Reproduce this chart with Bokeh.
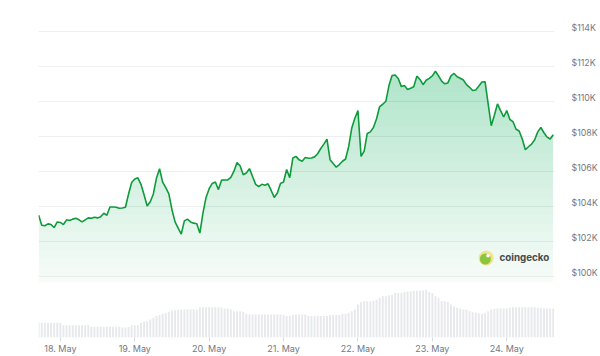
import numpy as np
from datetime import datetime, timedelta
from bokeh.plotting import figure
from bokeh.models import (Range1d, FixedTicker, PrintfTickFormatter, DatetimeTickFormatter,
                          Label, LinearAxis)
from bokeh.embed import file_html
from bokeh.resources import INLINE

# ---- data ----
start_time = datetime(2025, 5, 17, 17, 0)   # first hourly point

# BTC price, thousands of USD, hourly
price_k = [
    103.48, 102.91, 102.88, 102.99, 102.95, 102.78, 103.10, 103.07, 102.95, 103.22,
    103.18, 103.26, 103.31, 103.22, 103.10, 103.22, 103.33, 103.31, 103.37, 103.33,
    103.39, 103.60, 103.48, 103.95, 103.95, 103.94, 103.88, 103.90, 103.94, 104.70,
    105.35, 105.55, 105.62, 105.25, 104.65, 104.01, 104.25, 104.70, 105.60, 106.14,
    105.38, 105.06, 104.70, 103.80, 103.10, 102.75, 102.40, 103.16, 103.26, 103.10,
    103.03, 103.00, 102.46, 103.60, 104.50, 105.00, 105.30, 105.38, 104.95, 105.49,
    105.50, 105.50, 105.65, 106.00, 106.50, 106.30, 105.80, 105.90, 106.15, 105.70,
    105.25, 105.12, 105.25, 105.20, 105.28, 104.90, 104.50, 104.75, 105.30, 105.38,
    106.10, 105.63, 106.76, 106.85, 106.65, 106.57, 106.78, 106.74, 106.76, 106.82,
    107.00, 107.30, 107.55, 107.84, 106.66, 106.44, 106.23, 106.38, 106.57, 106.70,
    107.40, 108.47, 109.03, 109.47, 106.85, 107.15, 108.16, 108.25, 108.50, 109.00,
    109.70, 109.83, 110.00, 110.90, 111.47, 111.50, 111.30, 110.84, 110.90, 110.68,
    110.75, 110.83, 111.44, 111.25, 110.95, 111.20, 111.31, 111.45, 111.72, 111.45,
    111.15, 111.00, 111.05, 111.45, 111.59, 111.40, 111.32, 111.22, 110.95, 110.80,
    110.62, 110.65, 110.87, 111.10, 111.12, 109.85, 108.60, 109.20, 109.85, 109.47,
    109.10, 109.47, 108.96, 108.84, 108.40, 108.30, 107.84, 107.23, 107.40, 107.55,
    107.80, 108.25, 108.50, 108.20, 107.95, 107.84, 108.09,
]

# trading volume, relative units, hourly
volume_rel = [
    45, 45, 45, 45, 45, 45, 45, 45,
    37, 37, 37, 37, 37, 37, 37, 37, 37,
    33, 33, 33, 33, 33, 33, 33, 33, 33, 33,
    30, 30, 32, 37, 37, 37, 45, 48, 50, 55, 60, 65,
    68, 72, 75, 78, 82, 83, 84, 85, 85, 85, 86,
    86, 85, 92, 92, 92, 92, 92, 92, 92, 91,
    88, 88, 85, 80, 80, 80, 78,
    72, 70, 70, 70, 70, 70, 70, 70, 70, 70, 70, 70, 68,
    65, 65, 68, 70, 70, 70, 70,
    65, 65, 65, 65, 65, 65, 65,
    68, 68, 68, 68, 72, 72, 75, 80, 85, 100, 108,
    110, 110, 110, 112, 115, 120, 125, 125, 128,
    130, 135, 135, 135, 138, 140, 140, 142, 142,
    142, 143, 145, 138, 135, 125, 120, 112, 110, 108,
    100, 95, 90, 88, 85, 85, 80, 77, 75, 73, 72, 75,
    80, 85, 87, 88, 88, 88, 88,
    90, 92, 92, 92, 92, 92, 92, 92, 92, 90, 90, 88, 88, 88, 88,
]

day_labels = ["2025-05-18", "2025-05-19", "2025-05-20", "2025-05-21",
              "2025-05-22", "2025-05-23", "2025-05-24"]
price_ticks = [100, 102, 104, 106, 108, 110, 112, 114]

# ---- helpers ----
EPOCH = datetime(1970, 1, 1)
def to_ms(dt):
    return (dt - EPOCH).total_seconds() * 1000.0

t_price = [to_ms(start_time + timedelta(hours=i)) for i in range(len(price_k))]
t_vol = [to_ms(start_time + timedelta(hours=i)) for i in range(len(volume_rel))]
day_ticks_ms = [to_ms(datetime.strptime(d, "%Y-%m-%d")) for d in day_labels]

x_start = to_ms(start_time) - 0.05 * 3600e3
x_end = to_ms(start_time + timedelta(hours=166.4))

y_lo, y_hi = 96.49, 114.62
p = figure(width=600, height=356, x_axis_type="datetime", y_axis_location=None,
           x_range=Range1d(x_start, x_end), y_range=Range1d(y_lo, y_hi),
           output_backend="svg", toolbar_location=None,
           min_border_left=38, min_border_right=45, min_border_top=20, min_border_bottom=17)
p.background_fill_color = "white"
p.border_fill_color = "white"
p.outline_line_color = None

# labels sit a few pixels above their grid lines: use a slightly shifted range for the axis
shift = 0.21
p.extra_y_ranges = {"vol": Range1d(0, 963), "lbl": Range1d(y_lo - shift, y_hi - shift)}

# volume bars
p.vbar(x=t_vol, top=volume_rel, bottom=0, width=0.62 * 3600e3, y_range_name="vol",
       fill_color="#e8e9ed", line_color=None)

# gradient-like fill under the price line
y = np.array(price_k)
base = 99.65
p.varea(x=t_price, y1=np.full_like(y, base), y2=y, fill_color="#00a83e", fill_alpha=0.03)
for L in np.arange(100.0, 113.5, 0.5):
    y1 = np.minimum(L, y)
    p.varea(x=t_price, y1=y1, y2=y, fill_color="#00a83e", fill_alpha=0.011)

p.line(t_price, price_k, line_color="#0f9a3c", line_width=1.6)

# grid
p.xgrid.visible = False
p.ygrid.ticker = FixedTicker(ticks=price_ticks)
p.ygrid.grid_line_color = "#efefef"
p.ygrid.grid_line_width = 1

# y axis (right)
yax = LinearAxis(y_range_name="lbl", ticker=FixedTicker(ticks=price_ticks),
                 formatter=PrintfTickFormatter(format="$%dK"))
yax.axis_line_color = None
yax.major_tick_line_color = None
yax.minor_tick_line_color = None
yax.major_label_standoff = 11
yax.major_label_text_color = "#737884"
yax.major_label_text_font = "Inter"
yax.major_label_text_font_size = "8.8px"
p.add_layout(yax, "right")

# x axis
p.xaxis.ticker = FixedTicker(ticks=day_ticks_ms)
fmt = "%d. %b"
p.xaxis.formatter = DatetimeTickFormatter(days=fmt, months=fmt, hours=fmt, years=fmt,
                                          minutes=fmt, seconds=fmt, milliseconds=fmt,
                                          microseconds=fmt, minsec=fmt, hourmin=fmt)
p.xaxis.axis_line_color = None
p.xaxis.major_tick_line_color = "#d9dadf"
p.xaxis.major_tick_in = 0
p.xaxis.major_tick_out = 4
p.xaxis.minor_tick_line_color = None
p.xaxis.major_label_standoff = 1
p.xaxis.major_label_text_color = "#737884"
p.xaxis.major_label_text_font = "Inter"
p.xaxis.major_label_text_font_size = "9px"

# coingecko watermark
frac = (486.5 - 38) / 517.0
lx = x_start + frac * (x_end - x_start)
ly = 101.04
p.scatter([lx], [ly], size=15, marker="circle", fill_color="#f3e38c", line_color=None)
p.scatter([lx - 0.25 * 3600e3], [ly - 0.06], size=11, marker="circle", fill_color="#8cc63f", line_color=None)
p.scatter([lx + 0.6 * 3600e3], [ly + 0.12], size=3.5, marker="circle", fill_color="white", line_color=None)
p.add_layout(Label(x=461, y=80, x_units="screen", y_units="screen", text="coingecko",
                   text_font="Inter", text_font_style="bold", text_font_size="9.8px",
                   text_color="#4a4a4a", text_baseline="middle"))

open("out.html", "w").write(file_html(p, INLINE))
